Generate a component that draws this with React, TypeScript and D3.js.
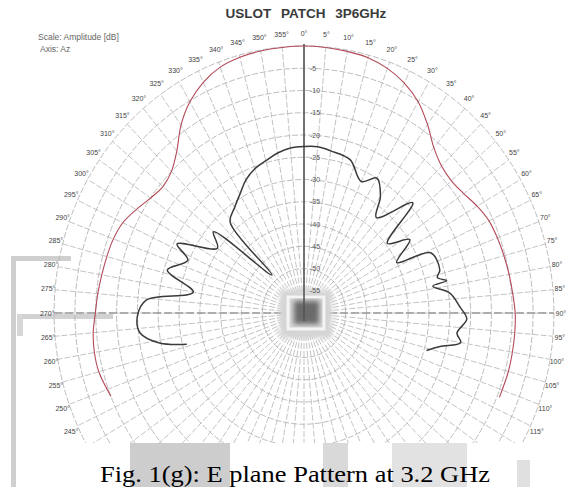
import React from 'react';
import * as d3 from 'd3';

const W = 569;
const H = 487;
const CX = 304;
const CY = 313;
const R = 267;
const SX = 0.936;

const ringDb = [-55, -50, -45, -40, -35, -30, -25, -20, -15, -10, -5, 0];
const ringLabels = ['-5', '-10', '-15', '-20', '-25', '-30', '-35', '-40', '-45', '-50', '-55'];
const ringLabelDb = [-5, -10, -15, -20, -25, -30, -35, -40, -45, -50, -55];
const angleTicks = d3.range(-115, 120, 5);
const spokeAngles = d3.range(0, 360, 5);

const redAngles = [-112, -105, -100, -95, -90, -85, -80, -75, -70, -65, -60, -55, -50, -45, -40, -35, -30, -25, -20, -15, -10, -5, 0, 5, 10, 15, 20, 25, 30, 35, 40, 45, 50, 55, 60, 65, 70, 75, 80, 85, 90, 95, 100, 105, 112];
const redDb = [-10, -9, -8.9, -9.2, -9.9, -10.3, -10.7, -11, -11.3, -12, -13.5, -15, -15.8, -15, -12.5, -8.5, -5.2, -2.8, -1.2, -0.5, -0.2, -0.1, 0, -0.1, -0.3, -0.6, -1.5, -3, -5.2, -8.3, -11.5, -13.3, -13.8, -13.2, -12, -11, -10.6, -10.3, -10, -9.7, -9.3, -9.2, -9.2, -9.2, -9.4];

const blackAngles = [-104, -101, -96.5, -91, -85.6, -80, -73.6, -67, -63, -55, -50, -42, -41, -35, -29.5, -25, -20, -14.6, -10, -5, 0, 5, 10, 17.8, 25, 30, 35, 39, 46.5, 52, 57, 63, 66, 73.5, 76, 78, 79, 82.7, 88, 92, 97, 100, 103, 106];
const blackDb = [-31, -24.7, -20.4, -20, -22, -33, -25.8, -29.7, -25.8, -34.6, -31.6, -48.5, -33, -31, -29, -27, -25.5, -24.5, -23.5, -22.8, -22.6, -22.5, -23, -23.8, -27.4, -25, -28, -32.4, -24, -34.6, -29.7, -35, -26.7, -26, -27, -25, -28.5, -24.7, -22.5, -20.9, -23, -21.8, -26.5, -29.4];

const rScale = d3.scaleLinear().domain([-60, 0]).range([0, R]);

const px = (deg: number, r: number) => CX + SX * r * Math.sin((deg * Math.PI) / 180);
const py = (deg: number, r: number) => CY - r * Math.cos((deg * Math.PI) / 180);

type P = { a: number; v: number };
const line = d3
  .line<P>()
  .x((d) => px(d.a, rScale(d.v)))
  .y((d) => py(d.a, rScale(d.v)))
  .curve(d3.curveCatmullRom.alpha(0.5));

const redData: P[] = redAngles.map((a, i) => ({ a, v: redDb[i] }));
const blackData: P[] = blackAngles.map((a, i) => ({ a, v: blackDb[i] }));

export default function App() {
  const gridColor = '#b4b4b4';
  return (
    <svg
      width={W}
      height={H}
      viewBox={`0 0 ${W} ${H}`}
      style={{ position: 'absolute', left: 0, top: 0, display: 'block', background: '#fff' }}
    >
      <defs>
        <clipPath id="plotClip">
          <rect x={0} y={0} width={W} height={443} />
        </clipPath>
        <filter id="blur2">
          <feGaussianBlur stdDeviation={2.5} />
        </filter>
        <filter id="blur1">
          <feGaussianBlur stdDeviation={0.5} />
        </filter>
      </defs>
      <rect x={0} y={0} width={W} height={H} fill="#fff" />

      {/* scan artifacts */}
      <rect x={11} y={256} width={5} height={231} fill="#cfcfcf" />
      <rect x={11} y={256} width={60} height={5} fill="#cfcfcf" />
      <rect x={18} y={314} width={95} height={5} fill="#d2d2d2" />
      <rect x={17} y={314} width={6} height={22} fill="#d6d6d6" />
      <rect x={130} y={443} width={100} height={44} fill="#cdcdcd" />
      <rect x={323} y={443} width={25} height={44} fill="#d9d9d9" />
      <rect x={392} y={443} width={75} height={44} fill="#e2e2e2" />
      <rect x={517} y={460} width={13} height={27} fill="#e0e0e0" />

      <g clipPath="url(#plotClip)" filter="url(#blur1)">
        {ringDb.map((d) => (
          <ellipse
            key={'r' + d}
            cx={CX}
            cy={CY}
            rx={SX * rScale(d)}
            ry={rScale(d)}
            fill="none"
            stroke={gridColor}
            strokeWidth={0.9}
            strokeDasharray="6,2"
          />
        ))}
        {spokeAngles.map((a) => (
          <line
            key={'s' + a}
            x1={px(a, 6)}
            y1={py(a, 6)}
            x2={px(a, R)}
            y2={py(a, R)}
            stroke={gridColor}
            strokeWidth={0.8}
            strokeDasharray="6,2"
          />
        ))}
        <line x1={px(-90, R)} y1={CY} x2={px(90, R)} y2={CY} stroke="#9a9a9a" strokeWidth={1.4} strokeDasharray="8,3" />

        <rect x={280} y={290} width={52} height={48} fill="#d4d4d4" filter="url(#blur2)" />
        <rect x={288} y={297} width={36} height={32} fill="none" stroke="#f4f4f4" strokeWidth={3} />
        <rect x={294} y={301} width={25} height={23} fill="#6a6a6a" filter="url(#blur2)" />

        <line x1={CX} y1={CY - R - 2} x2={CX} y2={CY + 8} stroke="#555" strokeWidth={1.6} />

        <path d={line(redData) ?? ''} fill="none" stroke="#b24a58" strokeWidth={1.1} />
        <path d={line(blackData) ?? ''} fill="none" stroke="#3a3a3a" strokeWidth={1.5} strokeLinejoin="round" />
      </g>

      {ringLabelDb.map((d, i) => (
        <text
          key={'rl' + d}
          x={CX + 6}
          y={py(0, rScale(d)) + 2.5}
          fontSize={7}
          fontFamily="Liberation Sans, Arial, sans-serif"
          fill="#555"
        >
          {ringLabels[i]}
        </text>
      ))}

      {angleTicks.map((a) => (
        <text
          key={'al' + a}
          x={CX + (px(a, 280) - CX) * 0.98}
          y={py(a, 280) + 2.5}
          fontSize={7}
          textAnchor="middle"
          fontFamily="Liberation Sans, Arial, sans-serif"
          fill="#444"
        >
          {`${(a + 360) % 360}°`}
        </text>
      ))}

      <text
        x={306}
        y={18}
        fontSize={13.5}
        fontWeight="bold"
        textAnchor="middle"
        wordSpacing={6}
        fontFamily="Liberation Sans, Arial, sans-serif"
        fill="#3a3a3a"
      >
        USLOT PATCH 3P6GHz
      </text>

      <text x={38} y={40} fontSize={8.5} fontFamily="Liberation Sans, Arial, sans-serif" fill="#666">
        Scale: Amplitude [dB]
      </text>
      <text x={40} y={52} fontSize={8.5} fontFamily="Liberation Sans, Arial, sans-serif" fill="#666">
        Axis: Az
      </text>

      <text
        x={100}
        y={482}
        fontSize={23}
        textLength={390}
        lengthAdjust="spacingAndGlyphs"
        fontFamily="Liberation Serif, Times New Roman, serif"
        fill="#000"
      >
        Fig. 1(g): E plane Pattern at 3.2 GHz
      </text>
    </svg>
  );
}
